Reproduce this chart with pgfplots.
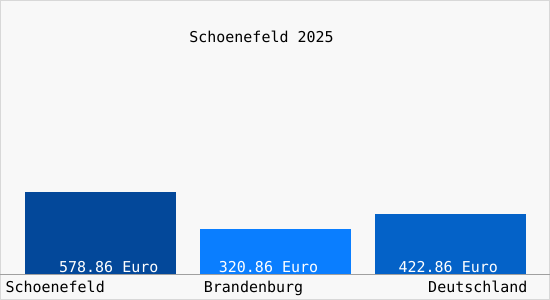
\documentclass[border=0pt]{standalone}
\usepackage{pgfplots}
\pgfplotsset{compat=1.18}
\usepackage{fontspec}
\setmonofont{DejaVu Sans Mono}
\definecolor{bgc}{HTML}{F8F8F8}
\definecolor{frame}{HTML}{D8D8D8}
\definecolor{base}{HTML}{A0A0A0}
\definecolor{cA}{HTML}{03489A}
\definecolor{cB}{HTML}{0A7EFF}
\definecolor{cC}{HTML}{0462C8}
\begin{document}
\begin{tikzpicture}[x=1pt,y=1pt]
\fill[bgc] (0,0) rectangle (550,300);
\draw[frame,line width=1pt] (0.5,0.5) rectangle (549.5,299.5);
\begin{axis}[
  at={(0,0)}, anchor=south west,
  scale only axis, width=550pt, height=300pt,
  xmin=0, xmax=550, ymin=-174.3, ymax=1917.7,
  axis lines=none, ticks=none, clip=false,
  ybar, bar width=151pt,
  every axis plot/.append style={bar shift=0pt, draw=none},
  font=\fontsize{15}{17}\selectfont\ttfamily,
]
\addplot[fill=cA] coordinates {(100.5,578.86)};
\addplot[fill=cB] coordinates {(275.5,320.86)};
\addplot[fill=cC] coordinates {(450.5,422.86)};
\draw[base, line width=0.8pt] (axis cs:0,0) -- (axis cs:550,0);
\node[white,anchor=base] at (axis cs:108.5,14) {578.86 Euro};
\node[white,anchor=base] at (axis cs:268.5,14) {320.86 Euro};
\node[white,anchor=base] at (axis cs:448.5,14) {422.86 Euro};
\node[anchor=base west,inner sep=0pt] at (axis cs:5,-125.5) {Schoenefeld};
\node[anchor=base,inner sep=0pt] at (axis cs:253.5,-125.5) {Brandenburg};
\node[anchor=base east,inner sep=0pt] at (axis cs:528,-125.5) {Deutschland};
\node[anchor=base] at (axis cs:261.5,1617.7) {Schoenefeld 2025};
\end{axis}
\end{tikzpicture}
\end{document}
